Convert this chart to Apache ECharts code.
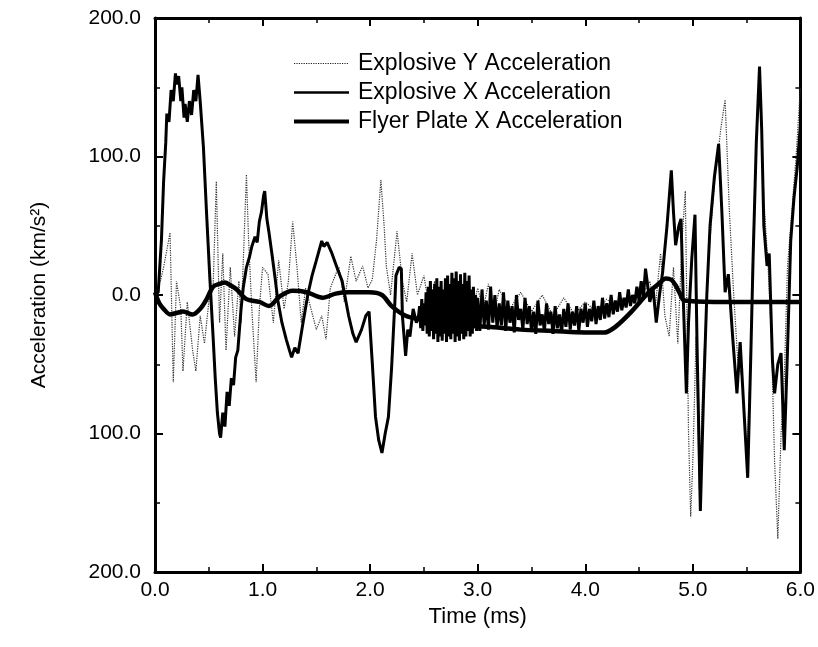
<!DOCTYPE html>
<html>
<head>
<meta charset="utf-8">
<script src="https://cdn.jsdelivr.net/npm/echarts@6/dist/echarts.min.js"></script>
<style>
html, body { margin: 0; padding: 0; background: #fff; }
#chart { width: 818px; height: 647px; }
</style>
</head>
<body>
<div id="chart"></div>
<script>
// series names (legend order)
var seriesNames = ['Explosive Y Acceleration', 'Explosive X Acceleration', 'Flyer Plate X Acceleration'];

// [time ms, acceleration km/s^2]
var explosiveY = [
  [0, 0], [0.05, 10], [0.08, 20], [0.14, 45], [0.17, -63], [0.2, 10], [0.24, -10], [0.26, -55],
  [0.3, -5], [0.35, -40], [0.38, -55], [0.42, -15], [0.46, -35], [0.5, -5], [0.54, 5], [0.57, 82],
  [0.6, -20], [0.63, 30], [0.66, -40], [0.7, 20], [0.74, -30], [0.78, 10], [0.8, -20], [0.85, 87],
  [0.87, 40], [0.9, -10], [0.94, -63], [0.97, -10], [1.0, 20], [1.05, 15], [1.1, -20], [1.15, 25],
  [1.2, -10], [1.24, 10], [1.28, 53], [1.32, 20], [1.36, -20], [1.4, 5], [1.45, -10], [1.5, -25],
  [1.55, -15], [1.59, -32], [1.63, 5], [1.68, 15], [1.71, 20], [1.76, -5], [1.82, 28], [1.87, 10],
  [1.93, 21], [1.98, 5], [2.02, 11], [2.06, 40], [2.1, 83], [2.13, 50], [2.15, 21], [2.19, 0],
  [2.25, 46], [2.3, 10], [2.34, -5], [2.39, 30], [2.44, 0], [2.5, 14], [2.55, -10], [2.6, 10],
  [2.65, -20], [2.7, 5], [2.75, -15], [2.8, 8], [2.85, -18], [2.9, 10], [2.95, -12], [3.0, 5],
  [3.05, -10], [3.1, 8], [3.15, -15], [3.2, 4], [3.3, -10], [3.4, 2], [3.5, -12], [3.6, 0],
  [3.7, -15], [3.8, -2], [3.9, -14], [4.0, -5], [4.1, -12], [4.2, -3], [4.3, -10], [4.4, 0],
  [4.5, -5], [4.6, 10], [4.65, -10], [4.7, 30], [4.74, -15], [4.78, -30], [4.82, 20], [4.86, -35],
  [4.9, 40], [4.93, 75], [4.96, -100], [4.98, -160], [5.0, -120], [5.03, -30], [5.06, -140], [5.1, -50],
  [5.15, 30], [5.2, 80], [5.26, 120], [5.3, 141], [5.34, 60], [5.38, 0], [5.42, -50], [5.46, -60],
  [5.5, -120], [5.53, -60], [5.56, 40], [5.6, 130], [5.63, 140], [5.66, 70], [5.7, 20], [5.73, -30],
  [5.76, -120], [5.79, -176], [5.82, -100], [5.85, -60], [5.88, 20], [5.92, 60], [5.96, 100], [6.0, 150]
];

var explosiveX = [
  [0, 0], [0.03, 2], [0.06, 40], [0.08, 82], [0.1, 110], [0.11, 131], [0.13, 125], [0.15, 148],
  [0.17, 140], [0.19, 160], [0.2, 152], [0.22, 158], [0.24, 140], [0.25, 150], [0.27, 128], [0.28, 138],
  [0.3, 125], [0.32, 140], [0.34, 130], [0.36, 148], [0.38, 140], [0.4, 159], [0.42, 140], [0.45, 107],
  [0.48, 58], [0.51, 12], [0.54, -30], [0.56, -60], [0.58, -85], [0.6, -100], [0.61, -103], [0.63, -85],
  [0.65, -95], [0.67, -70], [0.69, -80], [0.71, -60], [0.73, -65], [0.75, -45], [0.77, -40], [0.8, -10],
  [0.82, 5], [0.85, 20], [0.88, 28], [0.9, 35], [0.93, 42], [0.95, 38], [0.97, 53], [0.99, 60],
  [1.01, 72], [1.02, 75], [1.04, 55], [1.06, 45], [1.09, 28], [1.12, 10], [1.14, -3], [1.18, -20],
  [1.22, -32], [1.25, -40], [1.27, -45], [1.3, -38], [1.33, -42], [1.37, -23], [1.42, 0], [1.46, 14],
  [1.5, 25], [1.55, 39], [1.57, 35], [1.6, 38], [1.64, 31], [1.7, 18], [1.74, 10], [1.8, -15],
  [1.84, -28], [1.87, -34], [1.92, -25], [1.96, -15], [1.99, -12], [2.02, -49], [2.05, -88], [2.08, -105],
  [2.11, -114], [2.14, -100], [2.17, -88], [2.2, -52], [2.23, -5], [2.24, 14], [2.27, 20], [2.29, 19],
  [2.3, -15], [2.33, -44], [2.35, -25], [2.37, -30], [2.4, -10], [2.43, -20], [2.45, -15],
  [2.46, -8], [2.47, -24], [2.48, -3], [2.49, -26], [2.5, -6], [2.51, -22], [2.52, 2], [2.53, -28],
  [2.54, 6], [2.55, -30], [2.56, 10], [2.57, -26], [2.58, 4], [2.59, -32], [2.6, 8], [2.61, -28],
  [2.62, 12], [2.63, -34], [2.64, 6], [2.65, -30], [2.66, 10], [2.67, -33], [2.68, 4], [2.69, -28],
  [2.7, 12], [2.71, -34], [2.72, 14], [2.73, -30], [2.74, 8], [2.75, -32], [2.76, 16], [2.77, -28],
  [2.78, 12], [2.79, -34], [2.8, 17], [2.81, -30], [2.82, 10], [2.83, -33], [2.84, 15], [2.85, -28],
  [2.86, 8], [2.87, -32], [2.88, 16], [2.89, -30], [2.9, 10], [2.91, -26], [2.92, 14], [2.93, -30],
  [2.94, 4], [2.95, -28], [2.96, 6], [2.97, -24], [2.98, 0], [2.99, -26],
  [3.0, -2], [3.02, -26], [3.04, 4], [3.06, -22], [3.08, -4], [3.1, -25], [3.12, 6], [3.14, -20],
  [3.16, 0], [3.18, -24], [3.2, -6], [3.22, -22], [3.24, 2], [3.26, -26], [3.28, -4], [3.3, -20],
  [3.32, -8], [3.34, -27], [3.36, 0], [3.38, -18], [3.4, -10], [3.42, -25], [3.44, -2], [3.46, -21],
  [3.48, -8], [3.5, -26], [3.52, -12], [3.54, -28], [3.56, -4], [3.58, -22], [3.6, -14], [3.62, -26],
  [3.64, -6], [3.66, -21], [3.68, -12], [3.7, -28], [3.72, -8], [3.74, -24], [3.76, -14], [3.78, -27],
  [3.8, -10], [3.82, -23], [3.84, -6], [3.86, -25], [3.88, -12], [3.9, -22], [3.92, -8], [3.94, -26],
  [3.96, -10], [3.98, -20], [4.0, -6], [4.02, -23], [4.04, -10], [4.06, -19], [4.08, -4], [4.1, -21],
  [4.12, -8], [4.14, -18], [4.16, -2], [4.18, -17], [4.2, -6], [4.22, -16], [4.24, 0], [4.26, -14],
  [4.28, -4], [4.3, -12], [4.32, 2], [4.34, -11], [4.36, -2], [4.38, -9], [4.4, 4], [4.42, -8],
  [4.44, 0], [4.46, -6], [4.48, 6], [4.5, -4], [4.52, 10], [4.54, -2], [4.56, 19],
  [4.6, -5], [4.63, 5], [4.66, -20], [4.69, 0], [4.72, 17], [4.76, 50], [4.8, 90], [4.82, 60],
  [4.84, 36], [4.87, 50], [4.89, 55], [4.91, 0], [4.94, -71], [4.96, -20], [4.99, 26], [5.02, 58],
  [5.04, -40], [5.07, -156], [5.1, -71], [5.13, 0], [5.16, 50], [5.2, 85], [5.24, 109], [5.27, 60],
  [5.3, 2], [5.33, 15], [5.37, -30], [5.41, -71], [5.44, -34], [5.48, -90], [5.51, -132], [5.54, -40],
  [5.56, 26], [5.59, 110], [5.62, 165], [5.64, 120], [5.66, 50], [5.69, 21], [5.71, 30], [5.74, -47],
  [5.76, -71], [5.79, -50], [5.82, -42], [5.85, -112], [5.88, -40], [5.91, 39], [5.94, 70], [5.97, 92],
  [6.0, 123]
];

var flyerPlateX = [
  [0, 2], [0.04, -6], [0.08, -10], [0.14, -14], [0.2, -13], [0.26, -12], [0.35, -14], [0.42, -10],
  [0.48, -3], [0.54, 6], [0.6, 8], [0.65, 9], [0.7, 7], [0.76, 4], [0.85, -3], [0.97, -5],
  [1.06, -8], [1.16, -1], [1.28, 3], [1.41, 2], [1.56, -2], [1.68, 1], [1.8, 2], [1.99, 2],
  [2.11, 0], [2.2, -8], [2.33, -15], [2.48, -18], [2.64, -20], [2.9, -22], [3.1, -23], [3.4, -25],
  [3.7, -26], [4.0, -27], [4.18, -27], [4.28, -23], [4.43, -12], [4.59, 2], [4.68, 8], [4.75, 12],
  [4.8, 11], [4.84, 7], [4.88, 1], [4.92, -4], [5.2, -5], [5.6, -5], [6.0, -5]
];

var xMin = 0, xMax = 6, xStep = 1;
var yMin = -200, yMax = 200, yStep = 100;

var chart = echarts.init(document.getElementById('chart'));
var font = "'Liberation Sans', Arial, sans-serif";

function frame(extra) {
  return Object.assign({
    axisLine: { show: true, onZero: false, lineStyle: { color: '#000', width: 3 } },
    axisTick: { show: true, inside: true, length: 8, lineStyle: { color: '#000', width: 2 } },
    minorTick: { show: true, splitNumber: 2, length: 5, lineStyle: { color: '#000', width: 1.5 } },
    splitLine: { show: false }
  }, extra);
}

var option = {
  backgroundColor: '#fff',
  animation: false,
  textStyle: { fontFamily: font, color: '#000' },
  grid: { left: 155, right: 15, top: 18, bottom: 75 },
  legend: {
    data: [
      { name: seriesNames[0], lineStyle: { width: 1.2, type: 'dotted', color: '#222' } },
      { name: seriesNames[1], lineStyle: { width: 2.5, color: '#000' } },
      { name: seriesNames[2], lineStyle: { width: 4, color: '#000' } }
    ],
    orient: 'vertical',
    left: 287,
    top: 47,
    itemWidth: 55,
    itemHeight: 14,
    itemGap: 6,
    itemStyle: { opacity: 0 },
    textStyle: { fontFamily: font, fontSize: 23, lineHeight: 23, color: '#000', padding: [0, 0, 0, 4] }
  },
  xAxis: [
    frame({
      type: 'value', min: xMin, max: xMax, interval: xStep,
      name: 'Time (ms)', nameLocation: 'middle', nameGap: 31,
      nameTextStyle: { fontFamily: font, fontSize: 22, color: '#000' },
      axisLabel: { fontFamily: font, fontSize: 21, color: '#000', margin: 8,
        formatter: function (v) { return v.toFixed(1); } }
    }),
    frame({
      type: 'value', position: 'top', min: xMin, max: xMax, interval: xStep,
      axisLabel: { show: false }
    })
  ],
  yAxis: [
    frame({
      type: 'value', min: yMin, max: yMax, interval: yStep,
      name: 'Acceleration (km/s²)', nameLocation: 'middle', nameGap: 105,
      nameTextStyle: { fontFamily: font, fontSize: 21, color: '#000' },
      axisLabel: { fontFamily: font, fontSize: 21, color: '#000', margin: 14,
        formatter: function (v) { return Math.abs(v).toFixed(1); } }
    }),
    frame({
      type: 'value', position: 'right', min: yMin, max: yMax, interval: yStep,
      axisLabel: { show: false }
    })
  ],
  series: [
    {
      name: seriesNames[0], type: 'line', data: explosiveY, symbol: 'none',
      itemStyle: { color: '#222' },
      lineStyle: { color: '#333', width: 1.2, type: 'dotted' }, z: 2
    },
    {
      name: seriesNames[1], type: 'line', data: explosiveX, symbol: 'none',
      itemStyle: { color: '#000' },
      lineStyle: { color: '#000', width: 3 }, z: 3
    },
    {
      name: seriesNames[2], type: 'line', data: flyerPlateX, symbol: 'none', smooth: 0.3,
      itemStyle: { color: '#000' },
      lineStyle: { color: '#000', width: 4.5 }, z: 4
    }
  ]
};

chart.setOption(option);
</script>
</body>
</html>
